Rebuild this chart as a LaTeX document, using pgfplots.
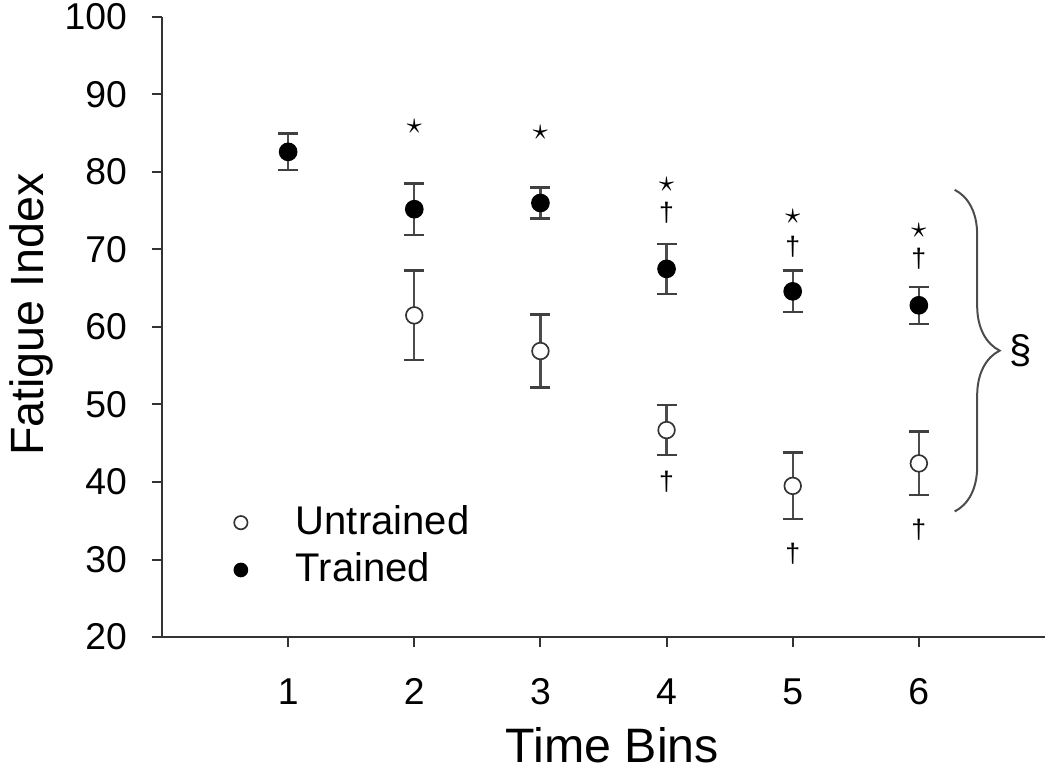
\documentclass[border=0pt]{standalone}
\usepackage{fontspec}
\setmainfont{Liberation Sans}
\usepackage{pgfplots}
\usepackage{pgfplotstable}
\pgfplotsset{compat=1.18}
\usetikzlibrary{decorations.pathreplacing}

\pgfplotstableread{
x y e
1 82.6 2.35
2 75.2 3.3
3 76.0 2.0
4 67.5 3.2
5 64.6 2.7
6 62.8 2.4
}\trained
\pgfplotstableread{
x y e
2 61.5 5.8
3 56.9 4.7
4 46.7 3.2
5 39.5 4.3
6 42.4 4.1
}\untrained

\begin{document}
\begin{tikzpicture}
\begin{axis}[
  at={(0,0)}, anchor=south west,
  scale only axis, width=264.9pt, height=186pt,
  xmin=0, xmax=7, ymin=20, ymax=100,
  axis x line=bottom, axis y line=left,
  axis line style={-, black!80, line width=0.75pt},
  xtick={1,2,3,4,5,6}, ytick={20,30,40,50,60,70,80,90,100},
  tick align=outside, major tick length=3pt,
  tick style={black!80, line width=0.6pt},
  /pgf/number format/assume math mode=true,
  tick label style={font=\fontsize{11.2}{13}\selectfont},
  xticklabel style={yshift=-6pt},
  yticklabel style={xshift=-4pt},
  xlabel={Time Bins}, ylabel={Fatigue Index},
  every axis x label/.style={at={(axis description cs:0.51,-0.174)}, anchor=center, font=\fontsize{14.5}{16}\selectfont},
  every axis y label/.style={at={(axis description cs:-0.148,0.52)}, rotate=90, anchor=center, font=\fontsize{14}{16}\selectfont},
  clip=false,
  legend style={at={(axis cs:0.62,31.7)}, xshift=-2pt, anchor=west, draw=none, fill=none,
    inner sep=0pt, nodes={inner sep=0pt}, row sep=4pt,
    font=\fontsize{12}{14}\selectfont},
  legend cell align=left,
  legend image code/.code={\path[draw=none, fill=none] (-2pt,-2pt) rectangle (16.5pt,2pt); \draw[#1, mark size=2pt] plot coordinates {(0pt,0pt)};},
]
% error bars
\addplot[only marks, mark=none, forget plot,
  error bars/.cd, y dir=both, y explicit,
  error bar style={draw=black!70, line width=0.7pt},
  error mark options={rotate=90, draw=black!75, line width=0.7pt, mark size=3pt}]
  table[x=x, y=y, y error=e] {\untrained};
\addplot[only marks, mark=none, forget plot,
  error bars/.cd, y dir=both, y explicit,
  error bar style={draw=black!70, line width=0.7pt},
  error mark options={rotate=90, draw=black!75, line width=0.7pt, mark size=3pt}]
  table[x=x, y=y, y error=e] {\trained};
% markers
\addplot[only marks, mark=*, mark size=2.5pt, mark options={draw=black!80, fill=white, line width=0.5pt}]
  table[x=x, y=y] {\untrained};
\addlegendentry{Untrained}
\addplot[only marks, mark=*, mark size=2.6pt, mark options={draw=black, fill=black}]
  table[x=x, y=y] {\trained};
\addlegendentry{Trained}
% significance symbols
\addplot[only marks, mark=text, text mark={\fontsize{9}{9}\selectfont$\star$}, color=black!85, forget plot]
  coordinates {(2,85.9) (3,85.1) (4,78.4) (5,74.3) (6,72.4)};
\addplot[only marks, mark=text, text mark={\fontsize{8}{8}\selectfont †}, color=black!85, forget plot]
  coordinates {(4,74.7) (5,70.4) (6,68.8) (4,40.0) (5,30.8) (6,33.9)};
% brace and section sign
\draw[black!70, line width=0.6pt, decorate, decoration={brace, amplitude=13.5pt}]
  (axis cs:6.284,77.7) -- (axis cs:6.284,36.2);
\node[font=\fontsize{12}{12}\selectfont] at (axis cs:6.81,57) {§};
\draw[black!80, line width=0.75pt] (axis cs:0,20) -- ([xshift=-3pt]axis cs:0,20);
\end{axis}
\pgfresetboundingbox
\path (-48.6pt,-41.4pt) rectangle (266.4pt,191.1pt);
\end{tikzpicture}
\end{document}
